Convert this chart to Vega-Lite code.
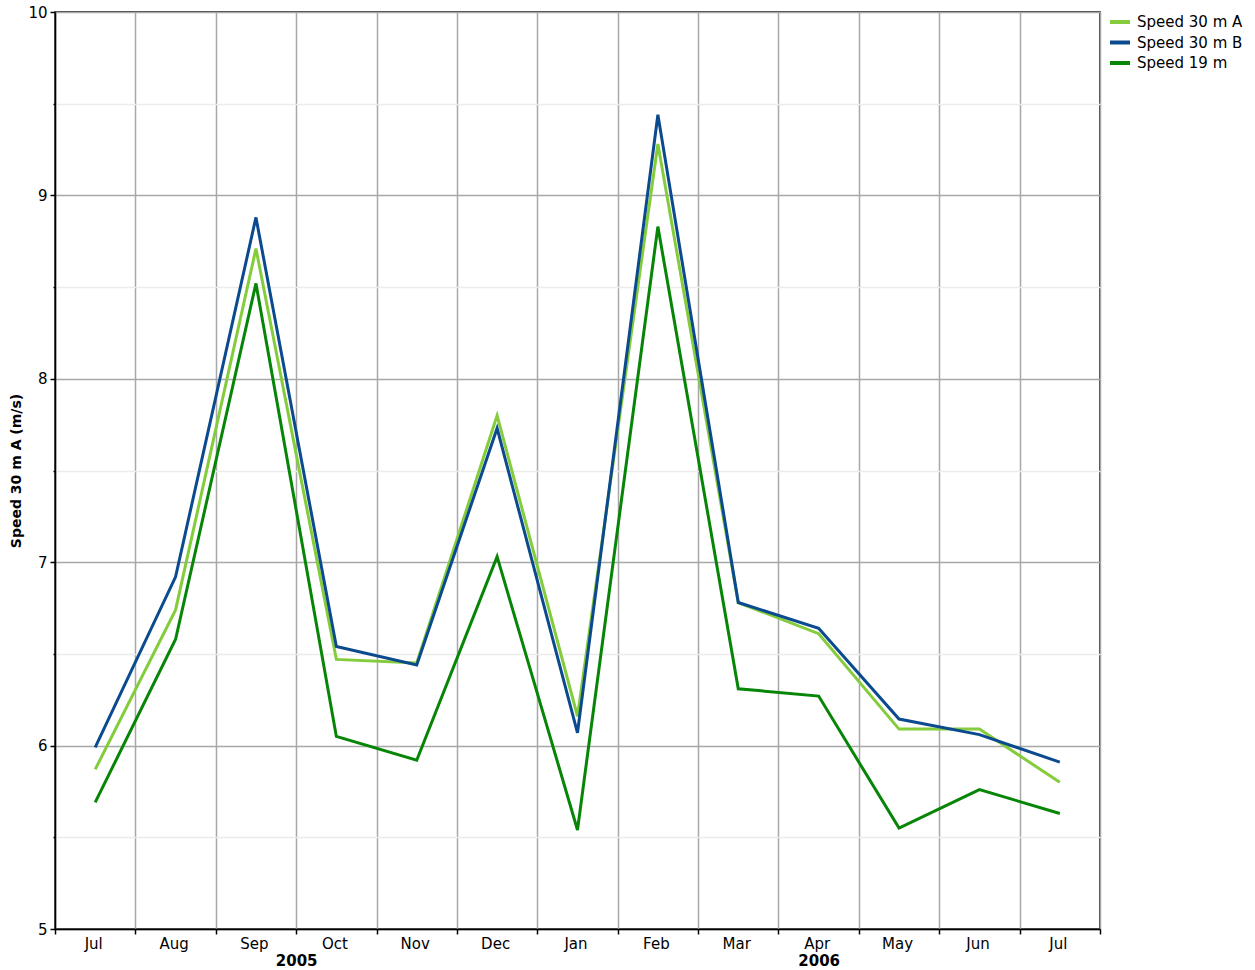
{
  "$schema": "https://vega.github.io/schema/vega-lite/v6.json",
  "autosize": {"type": "none"},
  "padding": {"left": 55, "top": 12, "right": 155, "bottom": 41},
  "width": 1045,
  "height": 917,
  "background": "white",
  "config": {
    "font": "DejaVu Sans",
    "view": {"stroke": "#000000", "strokeWidth": 1.5},
    "axis": {"labelColor": "#000000", "titleColor": "#000000", "labelFontSize": 15, "labelFont": "DejaVu Sans"}
  },
  "data": {
    "values": [
      {"idx": 0, "month": "2005-07", "series": "Speed 30 m A", "value": 5.87},
      {"idx": 1, "month": "2005-08", "series": "Speed 30 m A", "value": 6.74},
      {"idx": 2, "month": "2005-09", "series": "Speed 30 m A", "value": 8.71},
      {"idx": 3, "month": "2005-10", "series": "Speed 30 m A", "value": 6.47},
      {"idx": 4, "month": "2005-11", "series": "Speed 30 m A", "value": 6.45},
      {"idx": 5, "month": "2005-12", "series": "Speed 30 m A", "value": 7.80},
      {"idx": 6, "month": "2006-01", "series": "Speed 30 m A", "value": 6.16},
      {"idx": 7, "month": "2006-02", "series": "Speed 30 m A", "value": 9.28},
      {"idx": 8, "month": "2006-03", "series": "Speed 30 m A", "value": 6.78},
      {"idx": 9, "month": "2006-04", "series": "Speed 30 m A", "value": 6.61},
      {"idx": 10, "month": "2006-05", "series": "Speed 30 m A", "value": 6.09},
      {"idx": 11, "month": "2006-06", "series": "Speed 30 m A", "value": 6.09},
      {"idx": 12, "month": "2006-07", "series": "Speed 30 m A", "value": 5.80},
      {"idx": 0, "month": "2005-07", "series": "Speed 30 m B", "value": 5.99},
      {"idx": 1, "month": "2005-08", "series": "Speed 30 m B", "value": 6.92},
      {"idx": 2, "month": "2005-09", "series": "Speed 30 m B", "value": 8.88},
      {"idx": 3, "month": "2005-10", "series": "Speed 30 m B", "value": 6.54},
      {"idx": 4, "month": "2005-11", "series": "Speed 30 m B", "value": 6.44},
      {"idx": 5, "month": "2005-12", "series": "Speed 30 m B", "value": 7.73},
      {"idx": 6, "month": "2006-01", "series": "Speed 30 m B", "value": 6.07},
      {"idx": 7, "month": "2006-02", "series": "Speed 30 m B", "value": 9.44},
      {"idx": 8, "month": "2006-03", "series": "Speed 30 m B", "value": 6.78},
      {"idx": 9, "month": "2006-04", "series": "Speed 30 m B", "value": 6.64},
      {"idx": 10, "month": "2006-05", "series": "Speed 30 m B", "value": 6.145},
      {"idx": 11, "month": "2006-06", "series": "Speed 30 m B", "value": 6.06},
      {"idx": 12, "month": "2006-07", "series": "Speed 30 m B", "value": 5.91},
      {"idx": 0, "month": "2005-07", "series": "Speed 19 m", "value": 5.69},
      {"idx": 1, "month": "2005-08", "series": "Speed 19 m", "value": 6.58},
      {"idx": 2, "month": "2005-09", "series": "Speed 19 m", "value": 8.52},
      {"idx": 3, "month": "2005-10", "series": "Speed 19 m", "value": 6.05},
      {"idx": 4, "month": "2005-11", "series": "Speed 19 m", "value": 5.92},
      {"idx": 5, "month": "2005-12", "series": "Speed 19 m", "value": 7.03},
      {"idx": 6, "month": "2006-01", "series": "Speed 19 m", "value": 5.54},
      {"idx": 7, "month": "2006-02", "series": "Speed 19 m", "value": 8.83},
      {"idx": 8, "month": "2006-03", "series": "Speed 19 m", "value": 6.31},
      {"idx": 9, "month": "2006-04", "series": "Speed 19 m", "value": 6.27},
      {"idx": 10, "month": "2006-05", "series": "Speed 19 m", "value": 5.55},
      {"idx": 11, "month": "2006-06", "series": "Speed 19 m", "value": 5.76},
      {"idx": 12, "month": "2006-07", "series": "Speed 19 m", "value": 5.63}
    ]
  },
  "resolve": {"scale": {"x": "shared"}, "axis": {"x": "independent"}},
  "layer": [
    {
      "mark": {"type": "line", "strokeWidth": 3, "clip": true},
      "encoding": {
        "x": {
          "field": "idx",
          "type": "quantitative",
          "scale": {"domain": [-0.5, 12.5], "nice": false, "zero": false},
          "axis": {
            "orient": "bottom",
            "values": [-0.5, 0.5, 1.5, 2.5, 3.5, 4.5, 5.5, 6.5, 7.5, 8.5, 9.5, 10.5, 11.5, 12.5],
            "labels": false,
            "title": null,
            "grid": true,
            "gridColor": "#a8a8a8",
            "gridWidth": 1.5,
            "gridOpacity": 1,
            "ticks": true,
            "tickSize": 5,
            "tickColor": "#000000",
            "tickWidth": 1.5,
            "domain": true,
            "domainColor": "#000000",
            "domainWidth": 1.5
          }
        },
        "y": {
          "field": "value",
          "type": "quantitative",
          "scale": {"domain": [5, 10], "nice": false, "zero": false},
          "axis": {
            "values": [5, 5.5, 6, 6.5, 7, 7.5, 8, 8.5, 9, 9.5, 10],
            "labelExpr": "datum.value % 1 == 0 ? format(datum.value, 'd') : ''",
            "labelFontSize": 15,
            "labelFont": "DejaVu Sans",
            "title": "Speed 30 m A (m/s)",
            "titleFontSize": 14,
            "titleFontWeight": "bold",
            "titleFont": "DejaVu Sans",
            "titlePadding": 4,
            "grid": true,
            "gridColor": {"condition": {"test": "datum.value % 1 != 0", "value": "#ececec"}, "value": "#a8a8a8"},
            "gridWidth": 1.5,
            "gridOpacity": 1,
            "tickSize": {"condition": {"test": "datum.value % 1 != 0", "value": 2}, "value": 5},
            "tickColor": "#000000",
            "tickWidth": 1.5,
            "labelPadding": 3,
            "domainColor": "#000000",
            "domainWidth": 1.5
          }
        },
        "color": {
          "field": "series",
          "type": "nominal",
          "sort": ["Speed 30 m A", "Speed 30 m B", "Speed 19 m"],
          "scale": {"domain": ["Speed 30 m A", "Speed 30 m B", "Speed 19 m"], "range": ["#84cc3c", "#0b4a8e", "#078507"]},
          "legend": {
            "title": null,
            "orient": "none",
            "legendX": 1053,
            "legendY": -2,
            "padding": 0,
            "symbolType": "stroke",
            "symbolSize": 400,
            "symbolStrokeWidth": 4,
            "rowPadding": 0.5,
            "labelOffset": 5,
            "labelFontSize": 15,
            "labelColor": "#000000",
            "labelFont": "DejaVu Sans"
          }
        }
      }
    },
    {
      "mark": {"type": "point", "opacity": 0},
      "encoding": {
        "x": {
          "field": "idx",
          "type": "quantitative",
          "axis": {
            "orient": "bottom",
            "values": [0, 1, 2, 3, 4, 5, 6, 7, 8, 9, 10, 11, 12],
            "labelExpr": "['Jul','Aug','Sep','Oct','Nov','Dec','Jan','Feb','Mar','Apr','May','Jun','Jul'][datum.value]",
            "labelFontSize": 15,
            "labelFont": "DejaVu Sans",
            "title": null,
            "grid": false,
            "ticks": false,
            "tickSize": 0,
            "domain": false,
            "labelOffset": -2,
            "labelPadding": 7
          }
        }
      }
    },
    {
      "mark": {"type": "point", "opacity": 0},
      "encoding": {
        "x": {
          "field": "idx",
          "type": "quantitative",
          "axis": {
            "orient": "bottom",
            "values": [2.5, 9],
            "labelExpr": "datum.value < 5 ? '2005' : '2006'",
            "labelFontWeight": "bold",
            "labelFontSize": 15,
            "labelFont": "DejaVu Sans",
            "title": null,
            "grid": false,
            "ticks": false,
            "tickSize": 0,
            "domain": false,
            "labelPadding": 24
          }
        }
      }
    }
  ]
}
